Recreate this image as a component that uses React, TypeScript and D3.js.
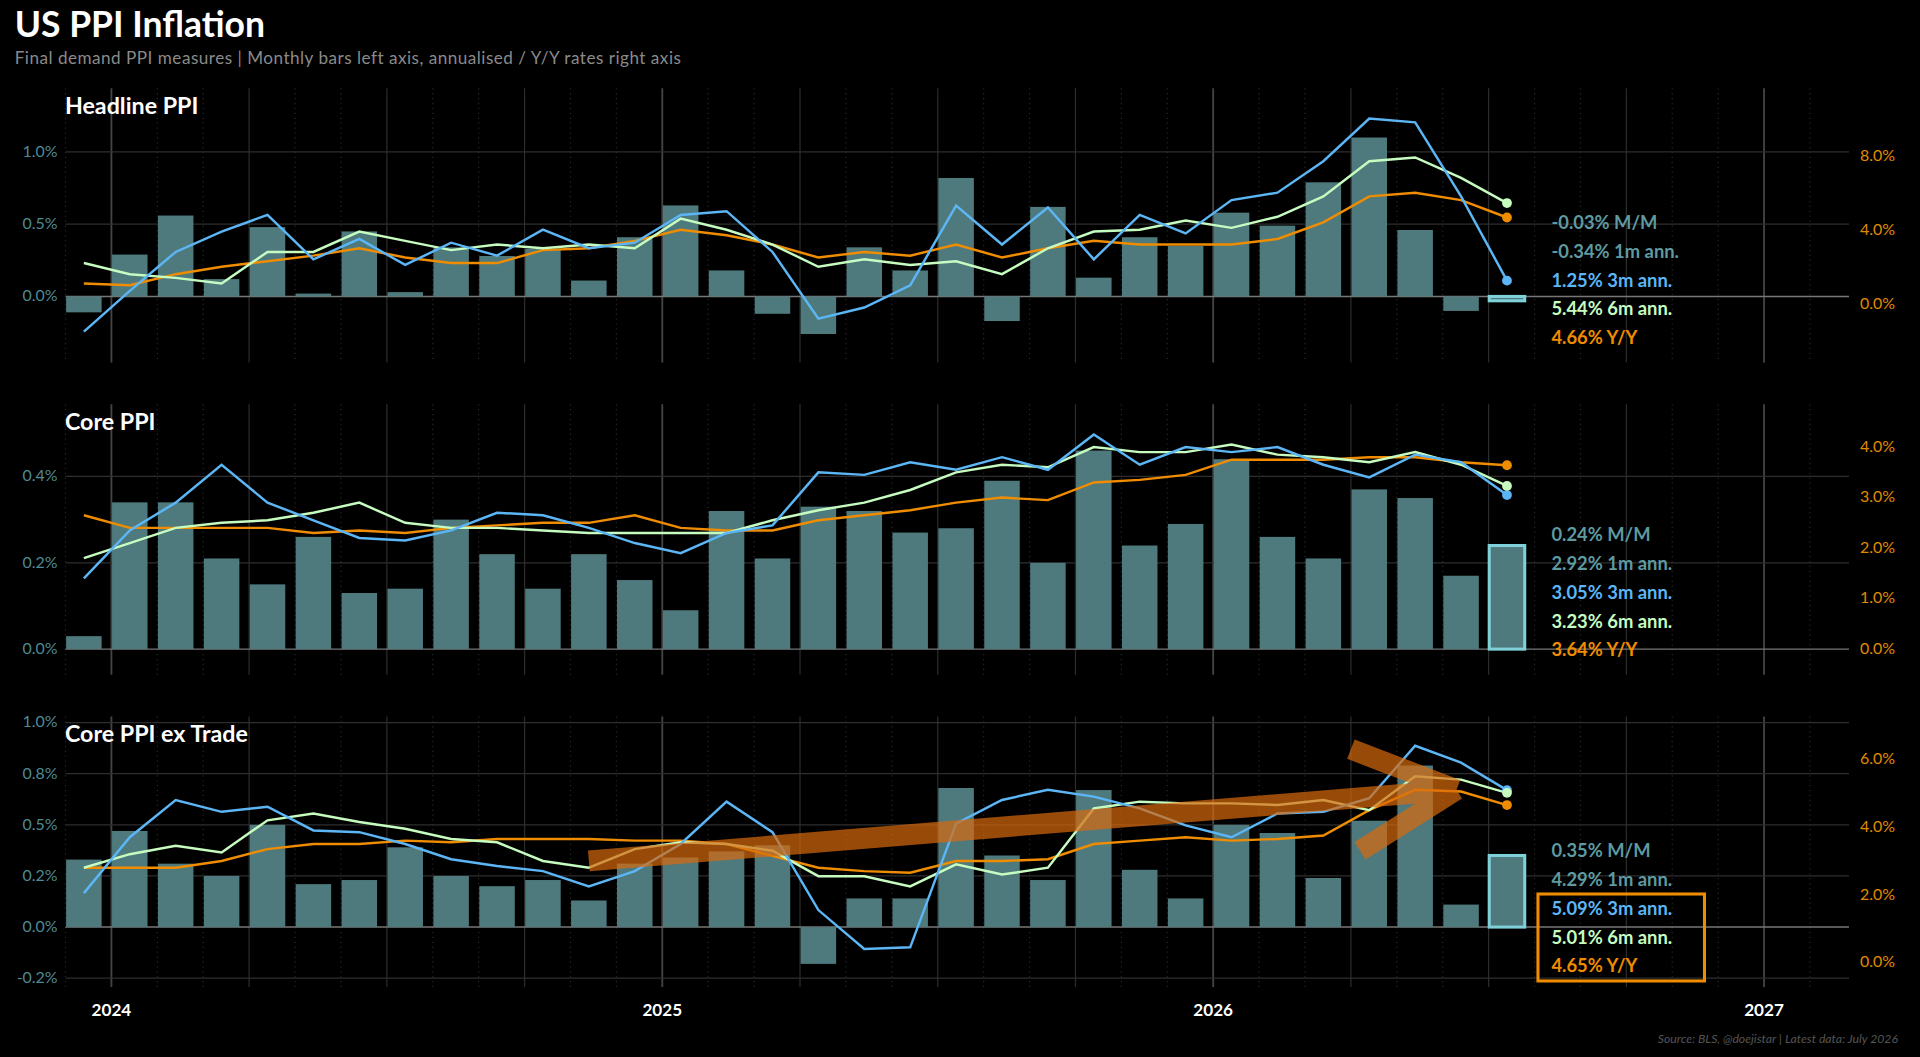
import * as d3 from 'd3';

// month index 0 = Dec 2023 ... 31 = Jul 2026
const months = d3.range(32);

const headlineMoM = [-0.11, 0.29, 0.56, 0.12, 0.48, 0.02, 0.45, 0.03, 0.34, 0.28, 0.33, 0.11, 0.41, 0.63, 0.18, -0.12, -0.26, 0.34, 0.18, 0.82, -0.17, 0.62, 0.13, 0.41, 0.35, 0.58, 0.49, 0.79, 1.10, 0.46, -0.10, -0.03];
const headline3m = [-1.5, 0.7, 2.8, 3.9, 4.8, 2.4, 3.5, 2.1, 3.3, 2.6, 4.0, 3.0, 3.3, 4.8, 5.0, 2.8, -0.8, -0.2, 1.0, 5.3, 3.2, 5.2, 2.4, 4.8, 3.8, 5.6, 6.0, 7.7, 10.0, 9.8, 5.8, 1.25];
const headline6m = [2.2, 1.6, 1.4, 1.1, 2.8, 2.8, 3.9, 3.4, 2.9, 3.2, 3.0, 3.2, 3.0, 4.6, 4.0, 3.2, 2.0, 2.4, 2.1, 2.3, 1.6, 3.0, 3.9, 4.0, 4.5, 4.1, 4.7, 5.8, 7.7, 7.9, 6.8, 5.44];
const headlineYoY = [1.1, 1.0, 1.6, 2.0, 2.3, 2.6, 3.0, 2.5, 2.2, 2.2, 2.9, 3.0, 3.4, 4.0, 3.7, 3.2, 2.5, 2.8, 2.6, 3.2, 2.5, 3.0, 3.4, 3.2, 3.2, 3.2, 3.5, 4.4, 5.8, 6.0, 5.6, 4.66];

const coreMoM = [0.03, 0.34, 0.34, 0.21, 0.15, 0.26, 0.13, 0.14, 0.30, 0.22, 0.14, 0.22, 0.16, 0.09, 0.32, 0.21, 0.33, 0.32, 0.27, 0.28, 0.39, 0.20, 0.46, 0.24, 0.29, 0.44, 0.26, 0.21, 0.37, 0.35, 0.17, 0.24];
const core3m = [1.4, 2.35, 2.9, 3.65, 2.9, 2.55, 2.2, 2.15, 2.35, 2.7, 2.65, 2.4, 2.1, 1.9, 2.3, 2.45, 3.5, 3.45, 3.7, 3.55, 3.8, 3.55, 4.25, 3.65, 4.0, 3.9, 4.0, 3.65, 3.4, 3.85, 3.7, 3.05];
const core6m = [1.8, 2.1, 2.4, 2.5, 2.55, 2.7, 2.9, 2.5, 2.4, 2.4, 2.35, 2.3, 2.3, 2.3, 2.3, 2.55, 2.75, 2.9, 3.15, 3.5, 3.65, 3.6, 4.0, 3.9, 3.9, 4.05, 3.85, 3.8, 3.7, 3.9, 3.65, 3.23];
const coreYoY = [2.65, 2.4, 2.4, 2.4, 2.4, 2.3, 2.35, 2.3, 2.4, 2.45, 2.5, 2.5, 2.65, 2.4, 2.35, 2.35, 2.55, 2.65, 2.75, 2.9, 3.0, 2.95, 3.3, 3.35, 3.45, 3.75, 3.75, 3.75, 3.8, 3.8, 3.7, 3.64];

const exMoM = [0.33, 0.47, 0.31, 0.25, 0.50, 0.21, 0.23, 0.39, 0.25, 0.20, 0.23, 0.13, 0.31, 0.34, 0.37, 0.40, -0.18, 0.14, 0.14, 0.68, 0.35, 0.23, 0.67, 0.28, 0.14, 0.50, 0.46, 0.24, 0.52, 0.79, 0.11, 0.35];
const ex3m = [2.05, 3.7, 4.8, 4.45, 4.6, 3.9, 3.85, 3.5, 3.05, 2.85, 2.7, 2.25, 2.7, 3.5, 4.75, 3.85, 1.55, 0.4, 0.45, 4.1, 4.8, 5.1, 4.9, 4.55, 4.05, 3.7, 4.4, 4.45, 4.85, 6.4, 5.9, 5.09];
const ex6m = [2.8, 3.2, 3.45, 3.25, 4.2, 4.4, 4.15, 3.95, 3.65, 3.55, 3.0, 2.8, 3.35, 3.55, 3.5, 3.3, 2.55, 2.55, 2.25, 2.9, 2.6, 2.8, 4.55, 4.75, 4.7, 4.7, 4.65, 4.8, 4.5, 5.5, 5.4, 5.01];
const exYoY = [2.8, 2.8, 2.8, 3.0, 3.35, 3.5, 3.5, 3.6, 3.55, 3.65, 3.65, 3.65, 3.6, 3.6, 3.5, 3.15, 2.8, 2.7, 2.65, 3.0, 3.0, 3.05, 3.5, 3.6, 3.7, 3.6, 3.65, 3.75, 4.5, 5.1, 5.05, 4.65];

const headlineLabels = ['-0.03% M/M', '-0.34% 1m ann.', '1.25% 3m ann.', '5.44% 6m ann.', '4.66% Y/Y'];
const coreLabels = ['0.24% M/M', '2.92% 1m ann.', '3.05% 3m ann.', '3.23% 6m ann.', '3.64% Y/Y'];
const exLabels = ['0.35% M/M', '4.29% 1m ann.', '5.09% 3m ann.', '5.01% 6m ann.', '4.65% Y/Y'];

const yearTicks = [{ m: 1, label: '2024' }, { m: 13, label: '2025' }, { m: 25, label: '2026' }, { m: 37, label: '2027' }];

// annotation arrow (month index, right-axis value)
const arrowShaft = [[11, 3.0], [29.9, 5.1]];
const arrowArms = [[[27.6, 6.3], [29.9, 5.1]], [[27.8, 3.3], [29.9, 5.1]]];

const W = 1568, H = 863;
const BAR = '#4e7a7e';
const BLUE = '#5cb6f6';
const GREEN = '#c6fcc0';
const ORANGE = '#f08c00';
const TEAL = '#5e9aa0';
const labelColors = [TEAL, TEAL, BLUE, GREEN, ORANGE];
const FONT = 'Lato, "Noto Sans", sans-serif';
const OFF = 0.4; // bar / point position within month

const x = d3.scaleLinear().domain([0, 38.85]).range([53.5, 1510]);

interface PanelDef {
  title: string;
  top: number;
  bottom: number;
  left: [number, number, number, number];
  right: [number, number, number, number];
  leftTicks: number[];
  leftLabels: string[];
  rightTicks: number[];
  mom: number[];
  m3: number[];
  m6: number[];
  yoy: number[];
  labels: string[];
  labelY: number;
}

const panels: PanelDef[] = [
  {
    title: 'Headline PPI', top: 72, bottom: 296, left: [0, 242, 1, 124], right: [0, 248, 8, 127],
    leftTicks: [0, 0.5, 1], leftLabels: ['0.0%', '0.5%', '1.0%'], rightTicks: [0, 4, 8],
    mom: headlineMoM, m3: headline3m, m6: headline6m, yoy: headlineYoY, labels: headlineLabels, labelY: 182,
  },
  {
    title: 'Core PPI', top: 330, bottom: 551, left: [0, 530, 0.4, 389], right: [0, 530, 4, 365],
    leftTicks: [0, 0.2, 0.4], leftLabels: ['0.0%', '0.2%', '0.4%'], rightTicks: [0, 1, 2, 3, 4],
    mom: coreMoM, m3: core3m, m6: core6m, yoy: coreYoY, labels: coreLabels, labelY: 437,
  },
  {
    title: 'Core PPI ex Trade', top: 585, bottom: 806, left: [0, 757, 1, 590], right: [0, 786, 6, 620],
    leftTicks: [-0.25, 0, 0.25, 0.5, 0.75, 1], leftLabels: ['-0.2%', '0.0%', '0.2%', '0.5%', '0.8%', '1.0%'], rightTicks: [0, 2, 4, 6],
    mom: exMoM, m3: ex3m, m6: ex6m, yoy: exYoY, labels: exLabels, labelY: 695,
  },
];

function Panel({ p, idx }: { p: PanelDef; idx: number }) {
  const yL = d3.scaleLinear().domain([p.left[0], p.left[2]]).range([p.left[1], p.left[3]]);
  const yR = d3.scaleLinear().domain([p.right[0], p.right[2]]).range([p.right[1], p.right[3]]);
  const bw = 29;
  const line = (vals: number[]) =>
    d3.line<number>().x((_, i) => x(i + OFF)).y(v => yR(v))(vals) || '';
  const last = months.length - 1;
  const monthLines = d3.range(0, 39);
  return (
    <g>
      {monthLines.map(m => {
        const isQ = (m - 1) % 3 === 0;
        const isY = (m - 1) % 12 === 0;
        return (
          <line key={m} x1={x(m)} x2={x(m)} y1={p.top} y2={p.bottom}
            stroke={isY ? '#444' : isQ ? '#2c2c2c' : '#262626'} strokeWidth={isY ? 1.5 : 1}
            strokeDasharray={isQ ? undefined : '1,3'} />
        );
      })}
      {p.leftTicks.map(t => (
        <line key={t} x1={53.5} x2={1510} y1={yL(t)} y2={yL(t)}
          stroke={t === 0 ? '#777' : '#2e2e2e'} strokeWidth={t === 0 ? 1.2 : 1} />
      ))}
      {p.leftTicks.map((t, i) => (
        <text key={'l' + t} x={47} y={yL(t) + 4} textAnchor="end" fill="#4f8a94" fontSize={13} fontFamily={FONT}>{p.leftLabels[i]}</text>
      ))}
      {p.rightTicks.map(t => (
        <text key={'r' + t} x={1519} y={yR(t) + 4} fill="#e08a00" fontSize={13} fontFamily={FONT}>{t.toFixed(1)}%</text>
      ))}
      {p.mom.map((v, i) => {
        const y0 = yL(0), y1 = yL(v);
        const isLast = i === last;
        return (
          <rect key={i} x={x(i + OFF) - bw / 2} width={bw} y={Math.min(y0, y1)} height={Math.max(Math.abs(y1 - y0), 1)}
            fill={BAR} stroke={isLast ? '#7fd0d8' : 'none'} strokeWidth={isLast ? 2.5 : 0} />
        );
      })}
      <path d={line(p.yoy)} fill="none" stroke={ORANGE} strokeWidth={2} />
      <path d={line(p.m6)} fill="none" stroke={GREEN} strokeWidth={2} />
      <path d={line(p.m3)} fill="none" stroke={BLUE} strokeWidth={2} />
      {idx === 2 && (
        <g opacity={0.7}>
          <line x1={x(arrowShaft[0][0] + OFF)} y1={yR(arrowShaft[0][1])} x2={x(arrowShaft[1][0] + OFF)} y2={yR(arrowShaft[1][1])}
            stroke="#d96a0c" strokeWidth={17} />
          {arrowArms.map((a, i) => (
            <line key={i} x1={x(a[0][0] + OFF)} y1={yR(a[0][1])} x2={x(a[1][0] + OFF)} y2={yR(a[1][1])}
              stroke="#d96a0c" strokeWidth={17} />
          ))}
        </g>
      )}
      <circle cx={x(last + OFF)} cy={yR(p.m3[last])} r={4} fill={BLUE} />
      <circle cx={x(last + OFF)} cy={yR(p.m6[last])} r={4} fill={GREEN} />
      <circle cx={x(last + OFF)} cy={yR(p.yoy[last])} r={4} fill={ORANGE} />
      <text x={53} y={p.top + 21} fill="white" fontSize={19} fontWeight="bold" fontFamily={FONT}>{p.title}</text>
      {p.labels.map((l, i) => (
        <text key={l} x={1267} y={p.labelY + i * 23.5 + 5} fill={labelColors[i]} fontSize={15} fontWeight="bold" fontFamily={FONT}>{l}</text>
      ))}
      {idx === 2 && (
        <rect x={1256} y={p.labelY + 2 * 23.5 - 12} width={136} height={71} fill="none" stroke={ORANGE} strokeWidth={2.5} />
      )}
    </g>
  );
}

export default function App() {
  return (
    <svg width={1920} height={1057} viewBox={`0 0 ${W} ${H}`} style={{ display: 'block', position: 'absolute', left: 0, top: 0, background: '#000' }}>
      <rect width={W} height={H} fill="#000" />
      <text x={12} y={30} fill="white" fontSize={29} fontWeight="bold" fontFamily={FONT}>US PPI Inflation</text>
      <text x={12} y={52} fill="#8a8a8a" fontSize={14} letterSpacing={0.4} fontFamily={FONT}>Final demand PPI measures | Monthly bars left axis, annualised / Y/Y rates right axis</text>
      {panels.map((p, i) => <Panel key={p.title} p={p} idx={i} />)}
      {yearTicks.map(t => (
        <text key={t.label} x={x(t.m)} y={830} textAnchor="middle" fill="white" fontSize={14} fontWeight="bold" fontFamily={FONT}>{t.label}</text>
      ))}
      <text x={1550} y={852} textAnchor="end" fill="#555" fontSize={10} fontStyle="italic" fontFamily={FONT}>Source: BLS, @doejistar | Latest data: July 2026</text>
    </svg>
  );
}
